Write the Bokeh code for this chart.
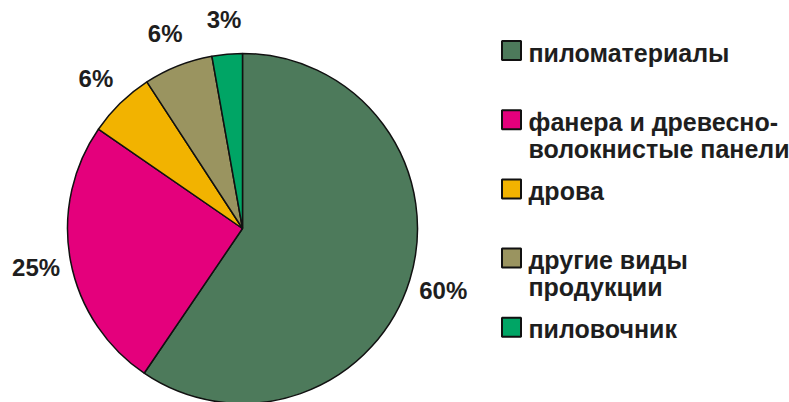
import math
from bokeh.plotting import figure
from bokeh.models import Range1d, ColumnDataSource
from bokeh.core.properties import value
from bokeh.embed import file_html
from bokeh.resources import INLINE

# ---- data ----
categories = ["пиломатериалы", "фанера и древесно-\nволокнистые панели", "дрова",
              "другие виды\nпродукции", "пиловочник"]
shares = [59.5, 25.1, 6.2, 6.4, 2.8]
pct_labels = ["60%", "25%", "6%", "6%", "3%"]
colors = ["#4D7A5B", "#E4007C", "#F2B300", "#9A9460", "#00A565"]

W, H = 789, 402
p = figure(width=W, height=H, output_backend="svg", toolbar_location=None,
           x_range=Range1d(0, W), y_range=Range1d(0, H), min_border=0,
           x_axis_location=None, y_axis_location=None)
p.grid.visible = False
p.outline_line_color = None
p.background_fill_color = "white"
p.border_fill_color = "white"

cx, cy, R = 242, 174, 175
total = sum(shares)
starts, ends, lx, ly = [], [], [], []
cum = 0.0
for s in shares:
    c0 = cum / total
    c1 = (cum + s) / total
    starts.append(math.pi / 2 - 2 * math.pi * c1)
    ends.append(math.pi / 2 - 2 * math.pi * c0)
    mid = math.pi / 2 - 2 * math.pi * (c0 + c1) / 2
    lx.append(cx + 210 * math.cos(mid))
    ly.append(cy + 210 * math.sin(mid))
    cum += s

src = ColumnDataSource(dict(start=starts, end=ends, color=colors, lx=lx, ly=ly, lab=pct_labels))
p.wedge(x=cx, y=cy, radius=R, start_angle="start", end_angle="end", fill_color="color",
        line_color="#111111", line_width=1.5, source=src)
p.text(x="lx", y="ly", text="lab", source=src, text_font=value("Liberation Sans"),
       text_font_style="bold", text_font_size="24px", text_color="#1e1e1e",
       text_align="center", text_baseline="middle")

# ---- legend ----
sq_x = 511
tx = 528
item_y = [H - (50 + i * 69.2) for i in range(len(categories))]
p.scatter(x=[sq_x] * len(categories), y=item_y, marker="square", size=19,
          fill_color=colors, line_color="#111111", line_width=2)
line_x, line_y, line_t = [], [], []
for yv, cat in zip(item_y, categories):
    for j, ln in enumerate(cat.split("\n")):
        line_x.append(tx)
        line_y.append(yv - 2 - j * 27)
        line_t.append(ln)
p.text(x=line_x, y=line_y, text=line_t, text_font=value("Liberation Sans"),
       text_font_style="bold", text_font_size="25px", text_color="#1e1e1e",
       text_align="left", text_baseline="middle")

open("out.html", "w").write(file_html(p, INLINE))
